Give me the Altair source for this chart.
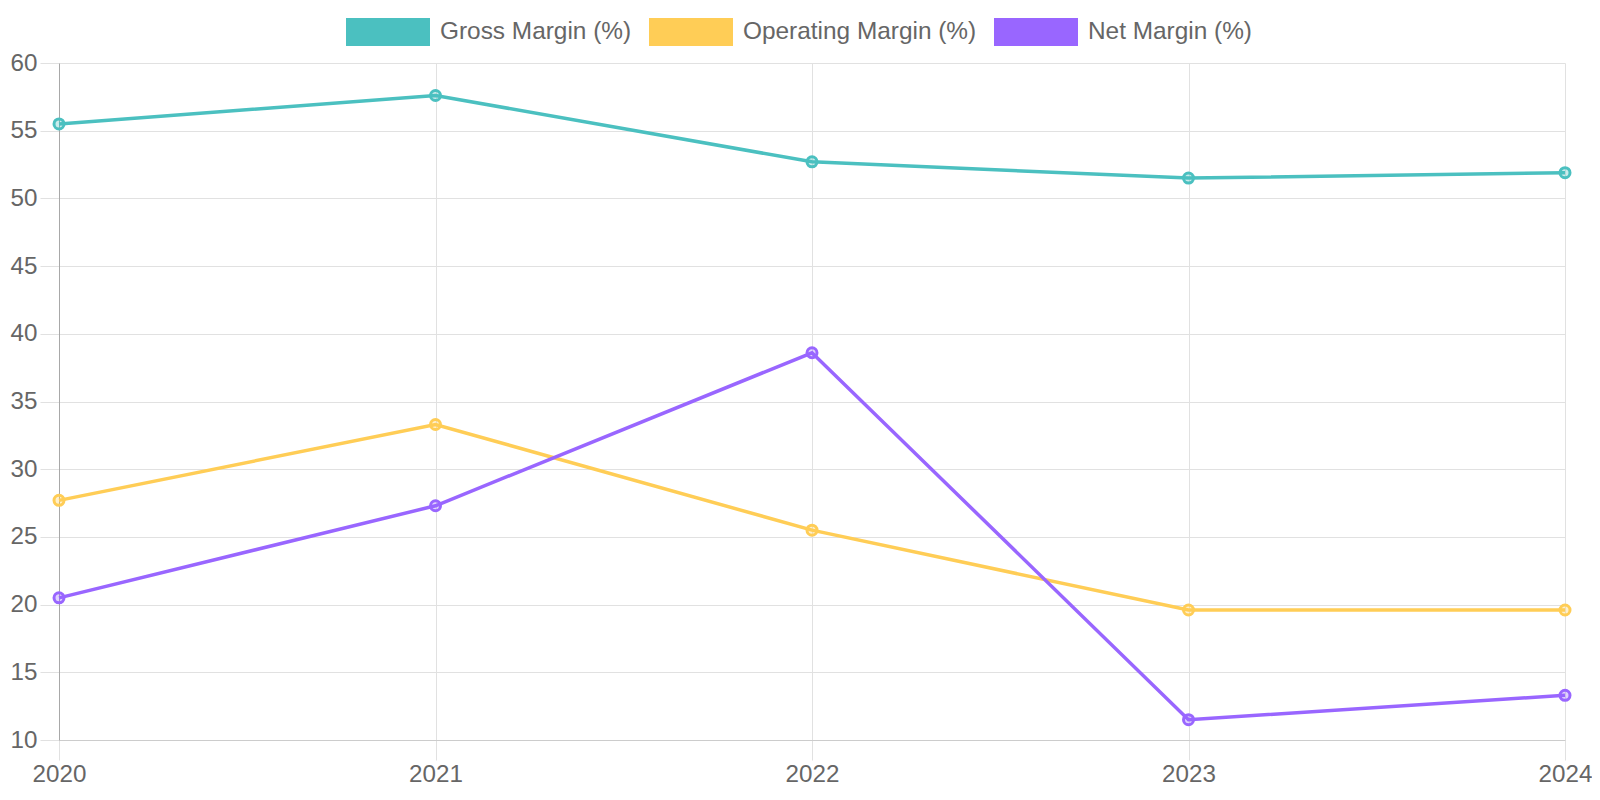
import altair as alt
import pandas as pd

years = [2020, 2021, 2022, 2023, 2024]
series_names = ["Gross Margin (%)", "Operating Margin (%)", "Net Margin (%)"]
gross = [55.5, 57.6, 52.7, 51.5, 51.9]
operating = [27.7, 33.3, 25.5, 19.6, 19.6]
net = [20.5, 27.3, 38.6, 11.5, 13.3]
colors = ["#4BC0C0", "#FFCD56", "#9966FF"]
y_ticks = [10, 15, 20, 25, 30, 35, 40, 45, 50, 55, 60]

rows = []
for name, vals in zip(series_names, [gross, operating, net]):
    for yr, v in zip(years, vals):
        rows.append({"year": yr, "value": v, "series": name})
df = pd.DataFrame(rows)

FONT = "Liberation Sans"
scale = alt.Scale(domain=series_names, range=colors)
legend = alt.Legend(
    orient="none", legendX=287, legendY=-73, direction="horizontal", title=None,
    symbolType="M-1,-0.3333H1V0.3333H-1Z", symbolSize=7056,
    labelFontSize=24.4, labelFont=FONT, labelColor="#666666", labelLimit=0,
    columnPadding=17, labelOffset=10, symbolStrokeWidth=0, symbolOpacity=1,
)

x = alt.X("year:Q", scale=alt.Scale(domain=[2020, 2024], nice=False, zero=False),
          axis=alt.Axis(values=years, format="d", title=None, tickSize=20, labelPadding=2,
                        labelFlush=False, labelOverlap=False,
                        domainColor="#cccccc", tickColor="#e1e1e1"))
y = alt.Y("value:Q", scale=alt.Scale(domain=[10, 60], nice=False, zero=False),
          axis=alt.Axis(values=y_ticks, title=None, tickSize=19, labelPadding=3,
                        labelFlush=False, labelOverlap=False,
                        domainColor="#a8a8a8", tickColor="#e1e1e1"))

base = alt.Chart(df)
legend_layer = base.mark_square(filled=True, size=0, opacity=1, strokeWidth=0).encode(
    x=x, y=y,
    fill=alt.Fill("series:N", scale=scale, legend=legend, sort=series_names),
)
lines = base.mark_line(strokeWidth=3.5).encode(
    x=x, y=y, color=alt.Color("series:N", scale=scale, legend=None, sort=series_names)
)
points = base.mark_point(size=100, strokeWidth=3, fillOpacity=0.3, opacity=1).encode(
    x=x, y=y,
    color=alt.Color("series:N", scale=scale, legend=None, sort=series_names),
    fill=alt.Fill("series:N", scale=scale, legend=None, sort=series_names),
)

chart = alt.layer(legend_layer, lines, points).properties(
    width=1506, height=677,
    autosize=alt.AutoSizeParams(type="none"),
    padding={"left": 51, "top": 55, "right": 27, "bottom": 50},
).configure_view(stroke=None).configure_axis(
    labelFont=FONT, labelFontSize=24.2, labelColor="#666666",
    gridColor="#e1e1e1", gridWidth=1,
).configure_axisY(labelAlign="right")

chart.save("out.html", embed_options={"renderer": "svg", "actions": False})
